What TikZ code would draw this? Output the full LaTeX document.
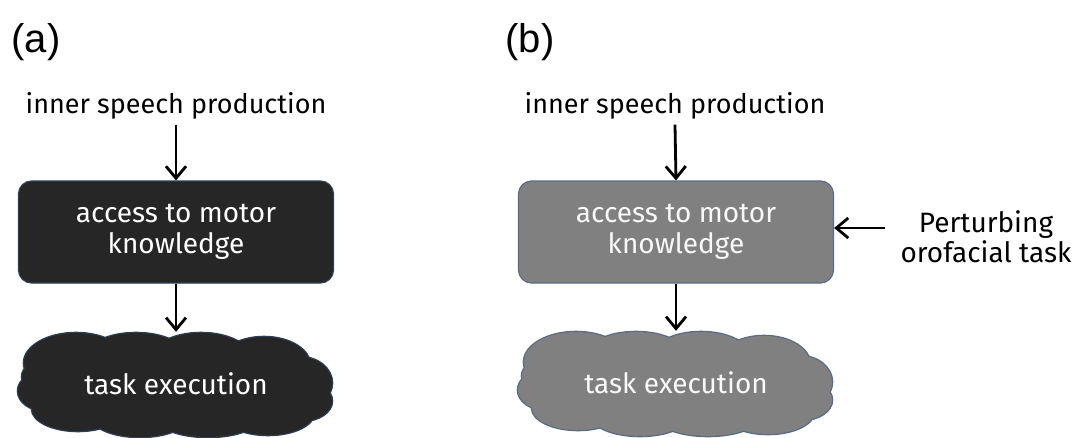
\documentclass[tikz,border=0pt]{standalone}
\usepackage{fontspec}
\setmainfont{Fira Sans}
\newfontfamily\labfont{Liberation Sans}
\usetikzlibrary{arrows.meta}
\definecolor{darkfill}{HTML}{262626}
\definecolor{darkedge}{HTML}{2E3D52}
\definecolor{greyfill}{HTML}{808080}
\definecolor{greyedge}{HTML}{5A6B85}
\tikzset{
  txt/.style={font=\fontsize{27}{30}\selectfont, align=center, inner sep=0pt},
  panellab/.style={font=\labfont\fontsize{40}{44}\selectfont, inner sep=0pt},
  boxstyle/.style={rectangle, rounded corners=13pt, minimum width=315pt, minimum height=102pt, line width=1.2pt, align=center, text=white, font=\fontsize{28}{31}\selectfont},
  cloudnode/.style={rectangle, minimum width=316pt, minimum height=104pt, text=white, font=\fontsize{28}{30}\selectfont, inner sep=0pt},
  arr/.style={-{Straight Barb[length=12pt,width=20pt,line width=2.8pt]}, line width=2.8pt}
}
\newcommand{\puffset}[1]{%
  \path[#1] (-100,-22) ellipse [x radius=52, y radius=30]
            (-40,-28) ellipse [x radius=50, y radius=24]
            (25,-26) ellipse [x radius=50, y radius=26]
            (88,-20) ellipse [x radius=46, y radius=28]
            (124,-2) ellipse [x radius=32, y radius=26]
            (126,16) ellipse [x radius=30, y radius=20]
            (92,28) ellipse [x radius=46, y radius=22]
            (32,32) ellipse [x radius=52, y radius=20]
            (-36,30) ellipse [x radius=50, y radius=22]
            (-98,24) ellipse [x radius=46, y radius=22]
            (-130,6) ellipse [x radius=28, y radius=20]
            (-128,-8) ellipse [x radius=26, y radius=18]
            (0,0) ellipse [x radius=118, y radius=34];}
\newcommand{\cloudat}[3]{%
  \begin{scope}[shift={#1}]
    \puffset{draw=#3, line width=2.6pt}
    \puffset{fill=#2}
  \end{scope}}
\begin{document}
\begin{tikzpicture}[x=1pt,y=-1pt]
\useasboundingbox (0,0) rectangle (1074,437);
% panel a
\node[panellab] (la) at (36,42) {(a)};
\node[txt] (ia) at (176,106) {inner speech production};
\node[boxstyle, fill=darkfill, draw=darkedge] (ba) at (176,232) {access to motor\\knowledge};
\cloudat{(176,385)}{darkfill}{darkedge}
\node[cloudnode] (ca) at (176,384) {task execution};
\draw[arr] (ia.south) ++(0,5) coordinate (ia0) (ia0) -- (ba.north);
\draw[arr] (ba.south) -- (ca.north);
% panel b
\node[panellab] (lb) at (530,42) {(b)};
\node[txt] (ib) at (675,106) {inner speech production};
\node[boxstyle, fill=greyfill, draw=greyedge, text=white!95!gray] (bb) at (676,232) {access to motor\\knowledge};
\cloudat{(676,384)}{greyfill}{greyedge}
\node[cloudnode, text=white!95!gray] (cb) at (676,383) {task execution};
\node[txt, font=\fontsize{28}{30}\selectfont] (pb) at (986,237) {Perturbing\\orofacial task};
\draw[arr] (ib.south) ++(0,5) coordinate (ib0) (ib0) -- (bb.north);
\draw[arr] (bb.south) -- (cb.north);
\coordinate (pa) at (885,228);
\draw[arr] (pa) -- (bb.east |- pa);
\end{tikzpicture}
\end{document}
